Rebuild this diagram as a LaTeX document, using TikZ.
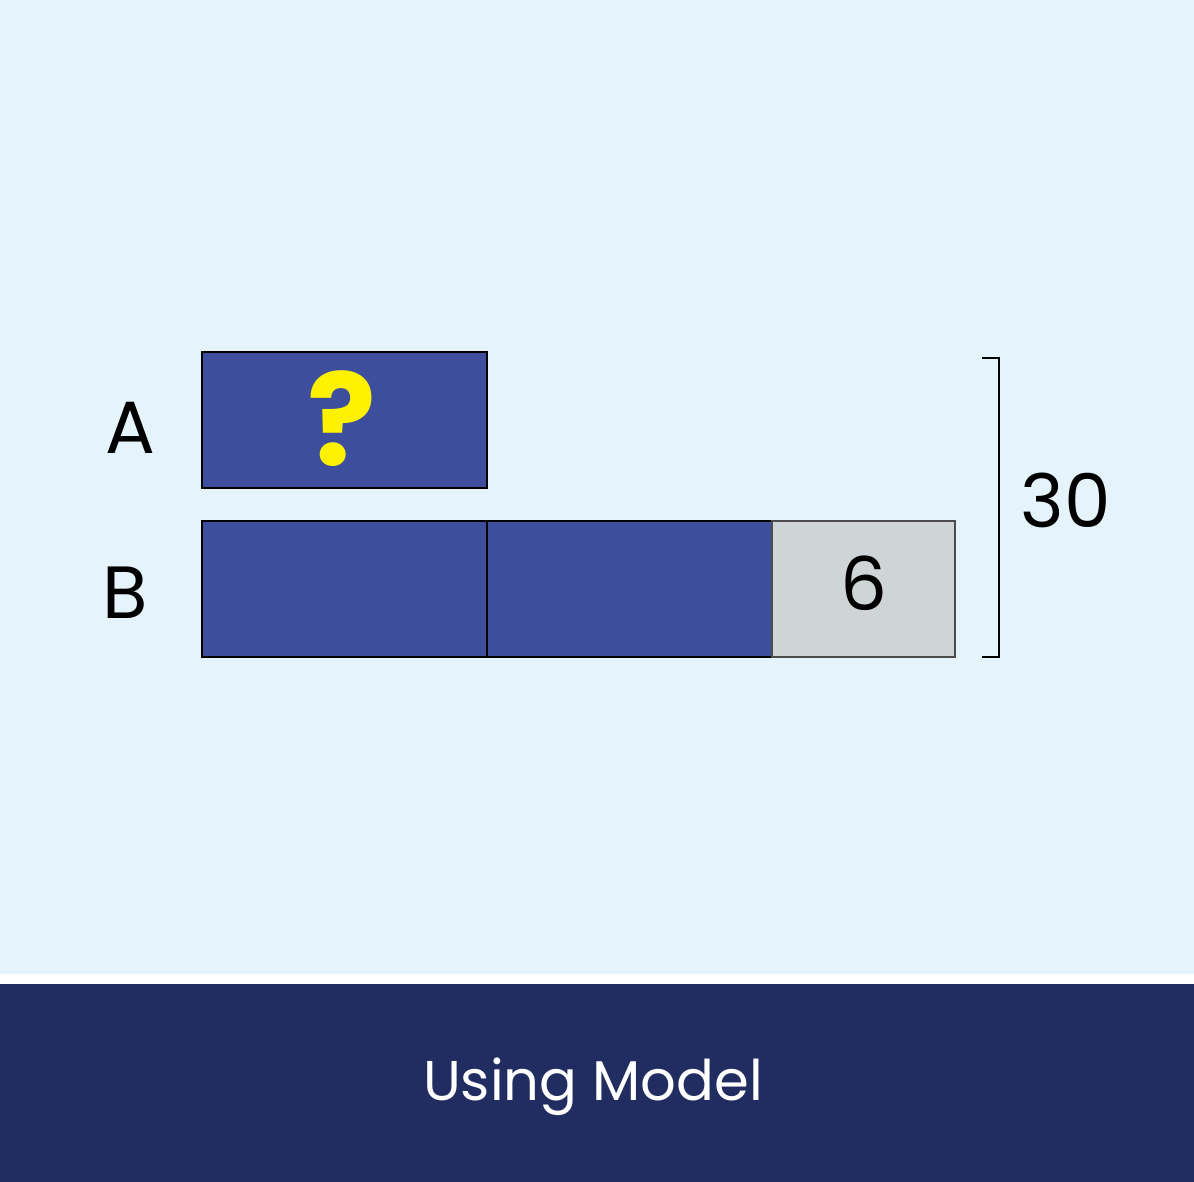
\documentclass[tikz,border=0pt]{standalone}
\usepackage{fontspec}
\setmainfont{Poppins}
\definecolor{skyback}{HTML}{E5F4FA}
\definecolor{navyband}{HTML}{212D61}
\definecolor{barblue}{HTML}{3D4F9C}
\definecolor{bargray}{HTML}{CFD5D6}
\definecolor{qyellow}{HTML}{FFF200}
\newcommand\labelsize{\fontsize{74}{78}\selectfont}
\newcommand\titlesize{\fontsize{56}{60}\selectfont}
\begin{document}
\begin{tikzpicture}[x=1pt, y=-1pt,
  bar/.style={draw=black, line width=1.5pt, fill=barblue, anchor=north west, inner sep=0pt, outer sep=0pt, minimum height=136pt},
  rest/.style={draw=black!70, line width=1.2pt, fill=bargray, anchor=north west, inner sep=0pt, outer sep=0pt, minimum height=136pt},
  txt/.style={anchor=base, inner sep=0pt}]
\useasboundingbox (0,0) rectangle (1194,1182);
\fill[skyback] (0,0) rectangle (1194,974);
\fill[white] (0,974) rectangle (1194,984);
\fill[navyband] (0,984) rectangle (1194,1182);
\node[bar, minimum width=285pt] (boxA) at (202,352){};
\node[bar, minimum width=285pt] (boxB1) at (202,521){};
\node[bar, minimum width=285pt] (boxB2) at (487,521){};
\node[rest, minimum width=183pt] (boxB3) at (772,521){};
\node[txt, text=qyellow, font=\fontsize{128}{128}\selectfont\bfseries] (qmark) at (342,465){?};
\node[txt, font=\labelsize] (labA) at (130,453){A};
\node[txt, font=\labelsize] (labB) at (125,618){B};
\node[txt, font=\labelsize] (six) at (864,610){6};
\node[txt, font=\labelsize] (total) at (1066,527){30};
\coordinate (brtop) at (982,358);
\coordinate (brbot) at (982,657);
\draw[line width=1.5pt] (brtop) -| (999,657) -- (brbot);
\node[txt, text=white, font=\titlesize] (title) at (593,1100){Using Model};
\end{tikzpicture}
\end{document}
